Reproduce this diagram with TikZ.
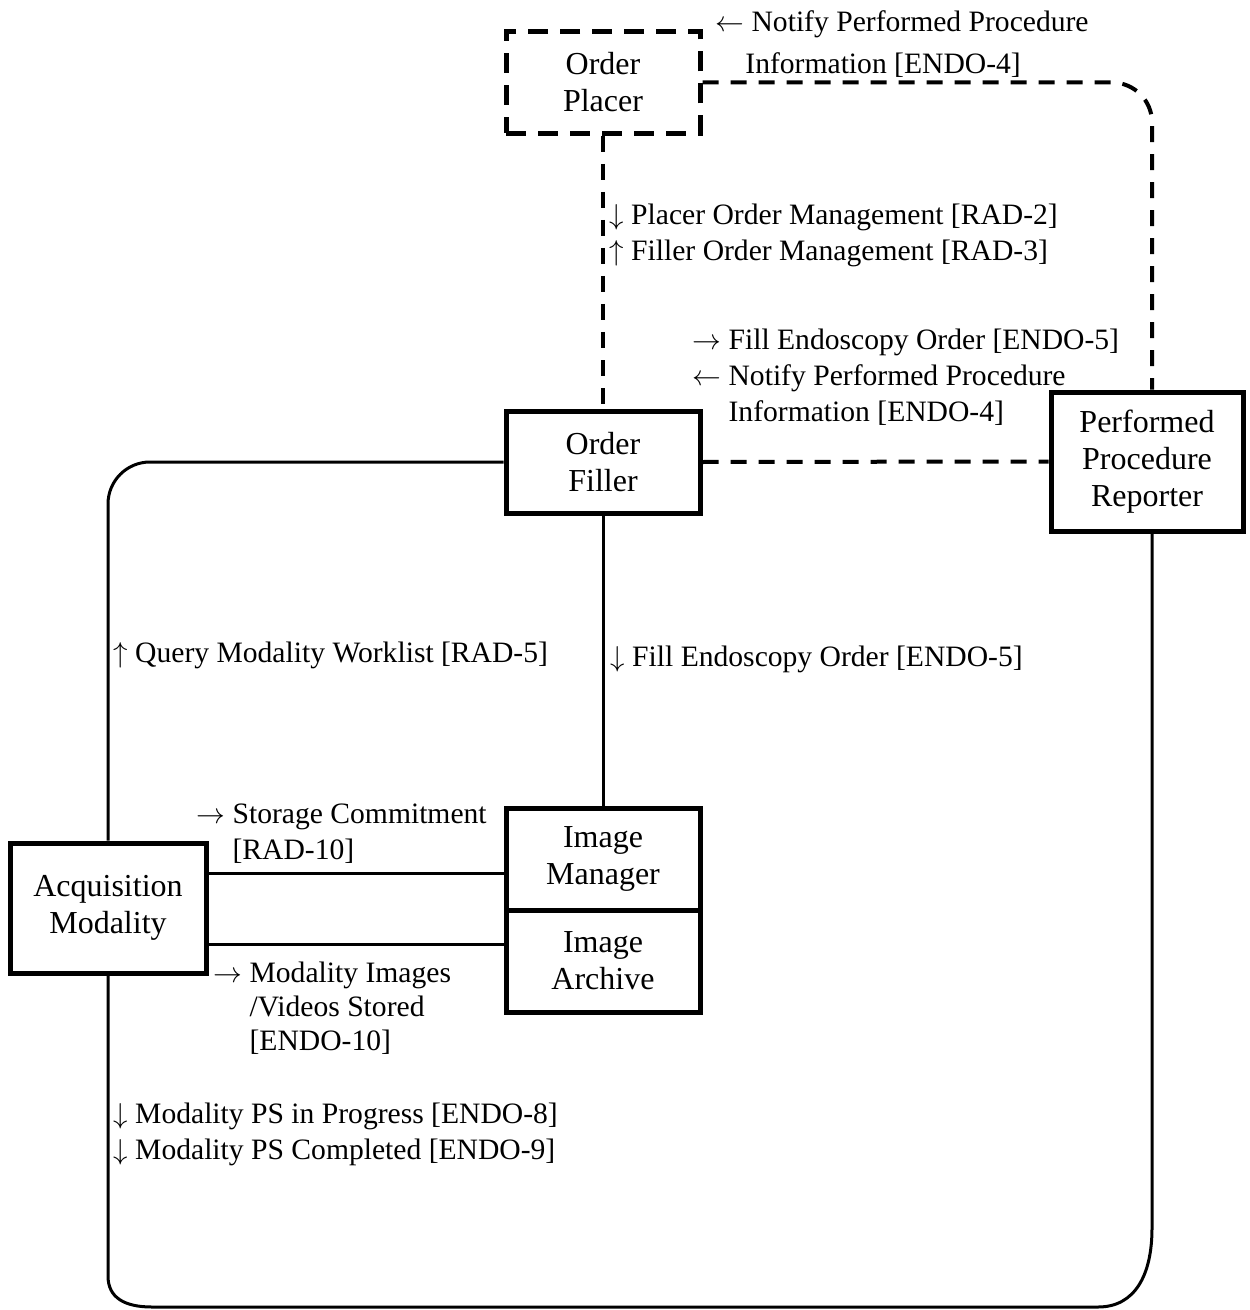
\documentclass[tikz,border=0pt]{standalone}
\usepackage{fontspec}
\setmainfont{Liberation Serif}
\usetikzlibrary{calc}
\newcommand{\lblfont}{\fontsize{14.8pt}{18pt}\selectfont}
\newcommand{\boxfont}{\fontsize{16pt}{18.5pt}\selectfont}

\begin{document}
\begin{tikzpicture}[x=0.5pt,y=-0.5pt,
    actor/.style={draw,line width=2.5pt,align=center,inner sep=0pt,font=\boxfont,minimum width=97pt,minimum height=51pt},
    dashedbox/.style={dash pattern=on 10pt off 6pt},
    link/.style={line width=1.5pt},
    dlink/.style={line width=2pt,dash pattern=on 8pt off 6pt},
    note/.style={anchor=west,align=left,inner sep=0pt,font=\lblfont}]
  \useasboundingbox (0,0) rectangle (1249,1310);
  % actors
  \node[actor,dashedbox] (placer) at (603,82.5) {Order\\Placer};
  \node[actor] (filler) at (603,462) {Order\\Filler};
  \node[actor,minimum width=96pt,minimum height=69.5pt] (ppr) at (1147,461.5) {Performed\\Procedure\\Reporter};
  \node[actor,minimum width=98pt,minimum height=65pt] (am) at (108,908) {Acquisition\\Modality};
  \node[actor] (im) at (603,859) {Image\\Manager};
  \node[actor] (ia) at (603,961) {Image\\Archive};
  \coordinate (pprtop) at ([xshift=2.5pt]ppr.north);
  \coordinate (pprbot) at ([xshift=2.5pt]ppr.south);
  % dashed transactions
  \draw[dlink] (placer.south) -- (filler.north);
  \draw[dlink,rounded corners=20pt] (placer.east) -- (pprtop |- placer.east) -- (pprtop);
  \draw[dlink] (filler.east) -- (ppr.west);
  % solid transactions
  \draw[link,rounded corners=21pt] (filler.west) -- (am.north |- filler.west) -- (am.north);
  \draw[link] (filler.south) -- (im.north);
  \draw[link] ([yshift=17.5pt]am.east) -- ([yshift=17.5pt]am.east -| im.west);
  \draw[link] ([yshift=-18pt]am.east) -- ([yshift=-18pt]am.east -| ia.west);
  \draw[link] (am.south) -- (108,1276) .. controls (108,1298) and (125,1307) .. (152,1307)
    -- (1098,1307) .. controls (1135,1307) and (1152,1275) .. (1152,1228) -- (pprbot);
  % transaction labels
  \node[note] (lnotify) at (715,44) {$\leftarrow$ Notify Performed Procedure\\[3pt]\hspace*{15pt}Information [ENDO-4]};
  \node[note] (lorder) at (609,235) {$\downarrow$ Placer Order Management [RAD-2]\\$\uparrow$ Filler Order Management [RAD-3]};
  \node[note] (lfill) at (692,377) {$\rightarrow$ Fill Endoscopy Order [ENDO-5]\\$\leftarrow$ Notify Performed Procedure\\\phantom{$\leftarrow$ }Information [ENDO-4]};
  \node[note] (lquery) at (113,655) {$\uparrow$ Query Modality Worklist [RAD-5]};
  \node[note] (lfillim) at (610,659) {$\downarrow$ Fill Endoscopy Order [ENDO-5]};
  \node[note] (lstore) at (196,834) {$\rightarrow$ Storage Commitment\\\phantom{$\rightarrow$ }[RAD-10]};
  \node[note] (limages) at (213,1008) {$\rightarrow$ Modality Images\\[-1pt]\phantom{$\rightarrow$ }/Videos Stored\\[-1pt]\phantom{$\rightarrow$ }[ENDO-10]};
  \node[note] (lmpps) at (113,1134) {$\downarrow$ Modality PS in Progress [ENDO-8]\\$\downarrow$ Modality PS Completed [ENDO-9]};
\end{tikzpicture}
\end{document}
